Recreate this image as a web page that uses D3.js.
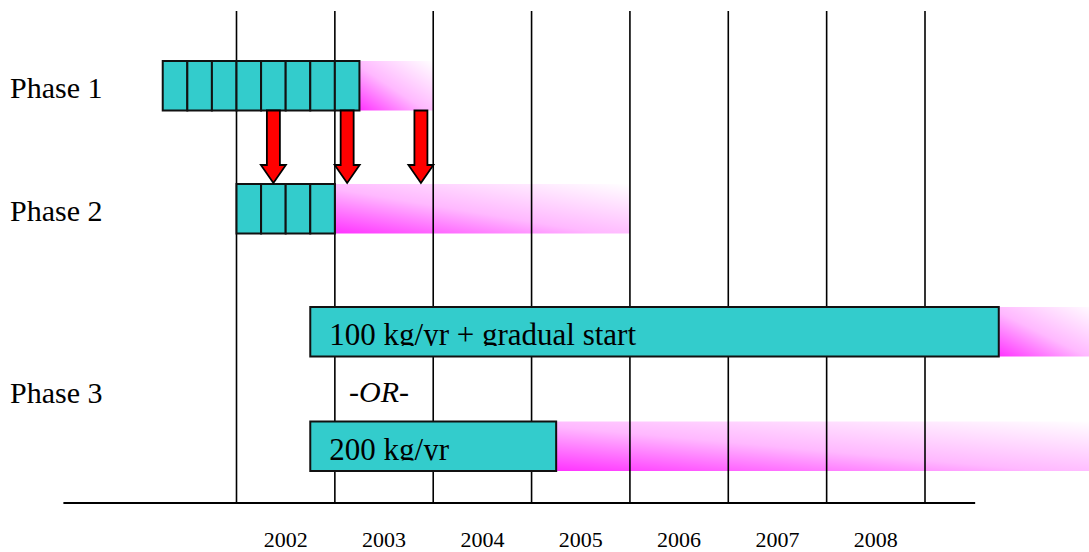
<!DOCTYPE html>
<html>
<head>
<meta charset="utf-8">
<script src="https://cdn.jsdelivr.net/npm/d3@7/dist/d3.min.js"></script>
<style>
  html, body { margin: 0; padding: 0; background: #fff; }
  svg { display: block; }
  text { font-family: "Liberation Serif", "Times New Roman", serif; fill: #000; }
</style>
</head>
<body>
<svg id="chart" width="1089" height="552"></svg>
<script>
// ---- data ----
const yearLabels = [2002, 2003, 2004, 2005, 2006, 2007, 2008];
const gridYears = [2002, 2003, 2004, 2005, 2006, 2007, 2008, 2009];
const phaseLabels = ["Phase 1", "Phase 2", "Phase 3"];
const phaseLabelRows = ["p1", "p2", "p3"];
// quarterly-cell bars (start/end in years)
const cellBars = [
  { row: "p1", start: 2001.25, end: 2003.25 },
  { row: "p2", start: 2002.0, end: 2003.0 }
];
const cellStep = 0.25;
// solid labelled bars
const solidBars = [
  { row: "p3a", start: 2002.75, end: 2009.75, label: "100 kg/yr + gradual start" },
  { row: "p3b", start: 2002.75, end: 2005.25, label: "200 kg/yr" }
];
// fading (uncertain) extensions
const fadeBars = [
  { row: "p1", start: 2003.25, end: 2004.0 },
  { row: "p2", start: 2003.0, end: 2006.0 },
  { row: "p3a", start: 2009.75, end: 2010.75 },
  { row: "p3b", start: 2005.25, end: 2010.75 }
];
// transition arrows Phase 1 -> Phase 2
const arrowYears = [2002.375, 2003.125, 2003.875];
const orLabel = "-OR-";

// ---- layout ----
const svg = d3.select("#chart");
const x = d3.scaleLinear().domain([2002, 2009]).range([236.5, 925]);
const barH = 49.5;
const rowTop = d3.scaleOrdinal().domain(["p1", "p2", "p3a", "p3b"]).range([61, 184, 307, 421.5]);
const labelBase = d3.scaleOrdinal().domain(phaseLabelRows).range([98, 221, 403]);
const axisY = 503, gridTop = 11;

const defs = svg.append("defs");
const grad = defs.append("linearGradient").attr("id", "fade")
  .attr("x1", 0).attr("y1", 1).attr("x2", 1).attr("y2", 0);
grad.append("stop").attr("offset", 0).attr("stop-color", "#ff33ff");
grad.append("stop").attr("offset", 0.45).attr("stop-color", "#ffb8ff");
grad.append("stop").attr("offset", 1).attr("stop-color", "#ffffff");

// fades
svg.append("g").selectAll("rect").data(fadeBars).join("rect")
  .attr("x", d => x(d.start)).attr("y", d => rowTop(d.row))
  .attr("width", d => x(d.end) - x(d.start)).attr("height", barH)
  .attr("fill", "url(#fade)");

// vertical grid lines
svg.append("g").selectAll("line").data(gridYears).join("line")
  .attr("x1", d => x(d)).attr("x2", d => x(d))
  .attr("y1", gridTop).attr("y2", axisY)
  .attr("stroke", "#000").attr("stroke-width", 1.6);

// horizontal axis line
svg.append("line")
  .attr("x1", x(2000.24)).attr("x2", x(2009.51))
  .attr("y1", axisY).attr("y2", axisY)
  .attr("stroke", "#000").attr("stroke-width", 1.8);

// year labels
svg.append("g").selectAll("text").data(yearLabels).join("text")
  .attr("x", d => x(d + 0.5)).attr("y", 547)
  .attr("text-anchor", "middle").attr("font-size", 22)
  .text(d => d);

// cell bars
const cells = [];
cellBars.forEach(b => {
  const n = Math.round((b.end - b.start) / cellStep);
  for (let i = 0; i < n; i++) cells.push({ row: b.row, start: b.start + i * cellStep, end: b.start + (i + 1) * cellStep });
});
svg.append("g").selectAll("rect").data(cells).join("rect")
  .attr("x", d => x(d.start)).attr("y", d => rowTop(d.row))
  .attr("width", d => x(d.end) - x(d.start)).attr("height", barH)
  .attr("fill", "#33cccc").attr("stroke", "#111").attr("stroke-width", 2);

// solid bars with clipped labels
const sb = svg.append("g").selectAll("g").data(solidBars).join("g");
sb.append("rect")
  .attr("x", d => x(d.start)).attr("y", d => rowTop(d.row))
  .attr("width", d => x(d.end) - x(d.start)).attr("height", barH)
  .attr("fill", "#33cccc").attr("stroke", "#111").attr("stroke-width", 2);
sb.each(function (d, i) {
  const id = "clip" + i;
  defs.append("clipPath").attr("id", id).append("rect")
    .attr("x", x(d.start)).attr("y", rowTop(d.row))
    .attr("width", x(d.end) - x(d.start)).attr("height", 39);
  d3.select(this).append("text")
    .attr("clip-path", "url(#" + id + ")")
    .attr("x", x(d.start) + 19).attr("y", rowTop(d.row) + 38)
    .attr("font-size", 31)
    .text(d.label);
});

// -OR-
svg.append("text").attr("x", 349).attr("y", 402)
  .attr("font-size", 30).attr("font-style", "italic").text(orLabel);

// phase labels
svg.append("g").selectAll("text").data(phaseLabels).join("text")
  .attr("x", 10).attr("y", (d, i) => labelBase(phaseLabelRows[i]))
  .attr("font-size", 30).text(d => d);

// arrows
const yA0 = rowTop("p1") + barH, yA1 = rowTop("p2") - 1;
const shaftW = 13, headW = 25, headH = 18;
svg.append("g").selectAll("path").data(arrowYears).join("path")
  .attr("d", d => {
    const cx = x(d);
    const p = [
      [cx - shaftW / 2, yA0], [cx + shaftW / 2, yA0], [cx + shaftW / 2, yA1 - headH],
      [cx + headW / 2, yA1 - headH], [cx, yA1], [cx - headW / 2, yA1 - headH],
      [cx - shaftW / 2, yA1 - headH]
    ];
    return "M" + p.map(q => q.join(",")).join("L") + "Z";
  })
  .attr("fill", "#ff0000").attr("stroke", "#000").attr("stroke-width", 1.8)
  .attr("stroke-linejoin", "miter");
</script>
</body>
</html>
